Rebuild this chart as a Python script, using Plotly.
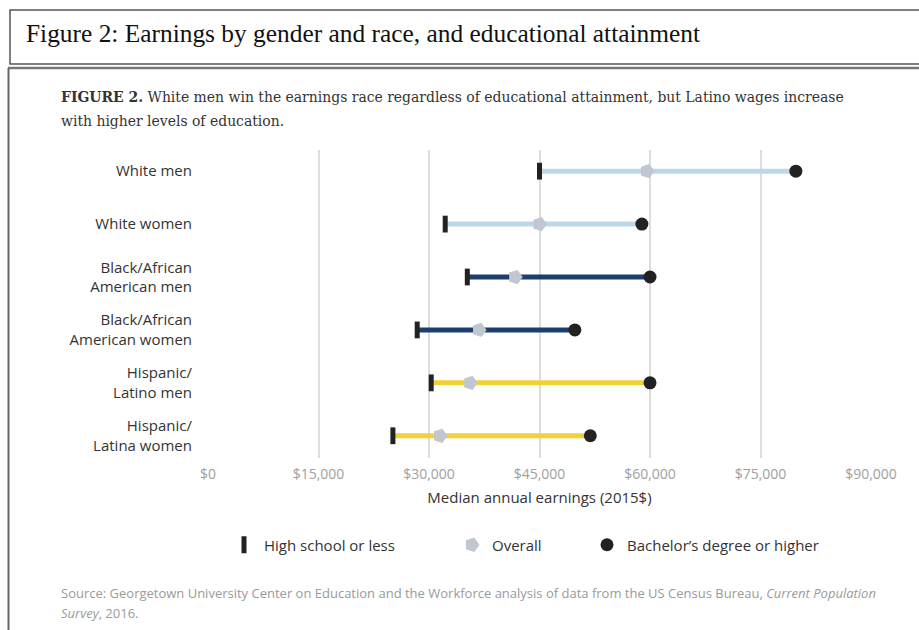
import plotly.graph_objects as go

# Groups (top to bottom) and median annual earnings, 2015 dollars
groups = [
    "White men",
    "White women",
    "Black/African<br>American men",
    "Black/African<br>American women",
    "Hispanic/<br>Latino men",
    "Hispanic/<br>Latina women",
]
high_school = [45000, 32200, 35200, 28400, 30300, 25100]
overall = [59600, 45000, 41700, 36800, 35600, 31500]
bachelors = [79800, 58900, 60000, 49800, 60000, 51900]
bar_colors = ["#bcd7ea", "#bcd7ea", "#1d3e70", "#1d3e70", "#f2d136", "#f2d136"]
x_ticks = [0, 15000, 30000, 45000, 60000, 75000, 90000]
x_tick_text = ["$0", "$15,000", "$30,000", "$45,000", "$60,000", "$75,000", "$90,000"]

W, H = 919, 630
ML, MR, MT, MB = 208, 48, 150, 172
PW, PH = W - ML - MR, H - MT - MB


def px_x(px):
    return (px - ML) / PW


def px_y(py):
    return (H - MB - py) / PH


SANS = "Open Sans, Noto Sans, sans-serif"
fig = go.Figure()

# connecting bars from high school to bachelor's
for i, g in enumerate(groups):
    fig.add_trace(go.Scatter(
        x=[high_school[i], bachelors[i]], y=[g, g], mode="lines",
        line=dict(color=bar_colors[i], width=5),
        showlegend=False, hoverinfo="skip",
    ))

fig.add_trace(go.Scatter(
    x=high_school, y=groups, mode="markers", name="High school or less",
    marker=dict(symbol="line-ns", size=12, color="#222222",
                line=dict(color="#222222", width=5)),
    legend="legend",
))
fig.add_trace(go.Scatter(
    x=overall, y=groups, mode="markers", name="Overall",
    marker=dict(symbol="pentagon", angle=90, size=15, color="#c2c6d1"),
    legend="legend2",
))
fig.add_trace(go.Scatter(
    x=bachelors, y=groups, mode="markers", name="Bachelor\u2019s degree or higher",
    marker=dict(symbol="circle", size=13, color="#222222"),
    legend="legend3",
))

legend_common = dict(
    orientation="h", yanchor="middle", xanchor="left",
    font=dict(family=SANS, size=15, color="#333333"),
    bgcolor="rgba(0,0,0,0)", itemwidth=30,
)
fig.update_layout(
    legend=dict(x=px_x(224), y=px_y(545), **legend_common),
    legend2=dict(x=px_x(452), y=px_y(545), **legend_common),
    legend3=dict(x=px_x(587), y=px_y(545), **legend_common),
)

# frames around the heading and the figure panel
frame = "#555555"
fig.add_shape(type="rect", xref="paper", yref="paper",
              x0=px_x(10), x1=px_x(930), y0=px_y(10), y1=px_y(64),
              line=dict(color=frame, width=1.5), fillcolor="rgba(0,0,0,0)")
fig.add_shape(type="line", xref="paper", yref="paper",
              x0=px_x(8), x1=px_x(930), y0=px_y(68), y1=px_y(68),
              line=dict(color="#777777", width=2.5))
fig.add_shape(type="line", xref="paper", yref="paper",
              x0=px_x(8.5), x1=px_x(8.5), y0=px_y(68), y1=px_y(640),
              line=dict(color="#666666", width=2))

annots = [
    dict(x=px_x(24), y=px_y(33),
         text="Figure 2: Earnings by gender and race, and educational attainment",
         font=dict(family="Liberation Serif, Times New Roman, serif", size=25.4, color="#111111")),
    dict(x=px_x(59), y=px_y(96),
         text="<b>FIGURE 2.</b> White men win the earnings race regardless of educational attainment, but Latino wages increase",
         font=dict(family="DejaVu Serif Condensed, DejaVu Serif, serif", size=15.5, color="#333333")),
    dict(x=px_x(59), y=px_y(121),
         text="with higher levels of education.",
         font=dict(family="DejaVu Serif Condensed, DejaVu Serif, serif", size=15.5, color="#333333")),
    dict(x=px_x(59), y=px_y(593),
         text="Source: Georgetown University Center on Education and the Workforce analysis of data from the US Census Bureau, <i>Current Population</i>",
         font=dict(family=SANS, size=13, color="#9a9a9a")),
    dict(x=px_x(59), y=px_y(613),
         text="<i>Survey</i>, 2016.",
         font=dict(family=SANS, size=13, color="#9a9a9a")),
]
for a in annots:
    fig.add_annotation(xref="paper", yref="paper", xanchor="left", yanchor="middle",
                       showarrow=False, **a)

fig.update_xaxes(
    range=[0, 90000], tickvals=x_ticks, ticktext=x_tick_text,
    showgrid=True, gridcolor="#dddddd", gridwidth=2, zeroline=False,
    showline=False, ticks="outside", ticklen=3, tickcolor="rgba(0,0,0,0)",
    tickfont=dict(family=SANS, size=14, color="#a0a0a0"),
    title=dict(text="Median annual earnings (2015$)", standoff=10,
               font=dict(family=SANS, size=15, color="#333333")),
    fixedrange=True,
)
fig.update_yaxes(
    categoryorder="array", categoryarray=groups,
    range=[5.42, -0.4], showgrid=False, zeroline=False, showline=False,
    ticks="outside", ticklen=12, tickcolor="rgba(0,0,0,0)",
    tickfont=dict(family=SANS, size=15, color="#333333"),
    fixedrange=True,
)
fig.update_layout(
    width=W, height=H, margin=dict(l=ML, r=MR, t=MT, b=MB),
    paper_bgcolor="white", plot_bgcolor="white",
)

fig.write_html("out.html")
